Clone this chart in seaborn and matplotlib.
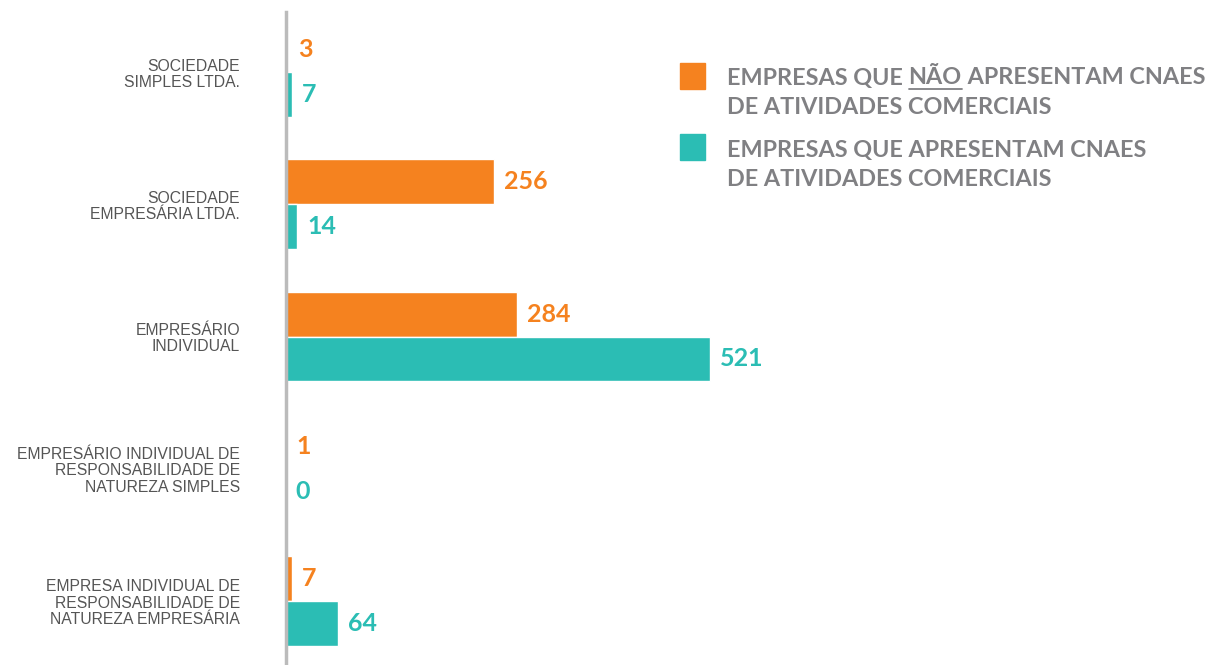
import matplotlib
matplotlib.use("Agg")
import matplotlib.pyplot as plt
import seaborn as sns
import pandas as pd
from matplotlib.patches import Rectangle

categories = ["SOCIEDADE\nSIMPLES LTDA.",
              "SOCIEDADE\nEMPRESÁRIA LTDA.",
              "EMPRESÁRIO\nINDIVIDUAL",
              "EMPRESÁRIO INDIVIDUAL DE\nRESPONSABILIDADE DE\nNATUREZA SIMPLES",
              "EMPRESA INDIVIDUAL DE\nRESPONSABILIDADE DE\nNATUREZA EMPRESÁRIA"]
nao_comerciais = [3, 256, 284, 1, 7]
comerciais = [7, 14, 521, 0, 64]
series_names = ["Não apresentam", "Apresentam"]
colors = ["#F5821F", "#2BBDB4"]

df = pd.DataFrame({
    "cat": categories * 2,
    "val": nao_comerciais + comerciais,
    "serie": [series_names[0]] * 5 + [series_names[1]] * 5,
})

sns.set_theme(style="white")
fig = plt.figure(figsize=(12.11, 6.65), dpi=100)
ax = fig.add_axes([286 / 1211, 0.0, 1 - 286 / 1211, 1 - 12 / 665])

sns.barplot(data=df, y="cat", x="val", hue="serie", orient="h",
            palette=colors, width=0.68, ax=ax, legend=False,
            saturation=1, errorbar=None)

ax.set_xlim(0, 925 / 0.814)
ax.set_ylim(4.484, -0.454)
ax.set_xlabel("")
ax.set_ylabel("")
ax.set_xticks([])
for s in ["top", "right", "bottom"]:
    ax.spines[s].set_visible(False)
ax.spines["left"].set_color("#BBBBBB")
ax.spines["left"].set_linewidth(2.5)
ax.tick_params(axis="y", length=0, pad=33)
for lab in ax.get_yticklabels():
    lab.set_fontfamily("Liberation Sans")
    lab.set_fontsize(11.3)
    lab.set_color("#555555")
    lab.set_linespacing(1.12)

for cont, col in zip(ax.containers, colors):
    ax.bar_label(cont, padding=7, color=col, fontsize=18, fontweight="bold",
                 family="Lato")

# Legend
legend_props = dict(fontsize=16.8, fontweight="bold", color="#808083", family="Lato",
                    va="center", ha="left")
fig.patches.append(Rectangle((680 / 1211, 1 - 89 / 665), 25 / 1211, 26 / 665,
                             transform=fig.transFigure, color=colors[0]))
fig.patches.append(Rectangle((680 / 1211, 1 - 160 / 665), 25 / 1211, 26 / 665,
                             transform=fig.transFigure, color=colors[1]))

fig.canvas.draw()
r = fig.canvas.get_renderer()
x0 = 727 / 1211
y1 = 1 - 78 / 665
t1 = fig.text(x0, y1, "EMPRESAS QUE ", **legend_props)
bb1 = t1.get_window_extent(r)
t2 = fig.text(bb1.x1 / fig.bbox.width, y1, "NÃO", **legend_props)
bb2 = t2.get_window_extent(r)
t3 = fig.text(bb2.x1 / fig.bbox.width, y1, " APRESENTAM CNAES", **legend_props)
uy = 1 - 89 / 665
fig.add_artist(plt.Line2D([bb2.x0 / fig.bbox.width, bb2.x1 / fig.bbox.width], [uy, uy],
                          transform=fig.transFigure, color="#808083", linewidth=1.3))
fig.text(x0, 1 - 107 / 665, "DE ATIVIDADES COMERCIAIS", **legend_props)
fig.text(x0, 1 - 150 / 665, "EMPRESAS QUE APRESENTAM CNAES", **legend_props)
fig.text(x0, 1 - 179 / 665, "DE ATIVIDADES COMERCIAIS", **legend_props)

fig.savefig("out.png", dpi=100, facecolor="white")
